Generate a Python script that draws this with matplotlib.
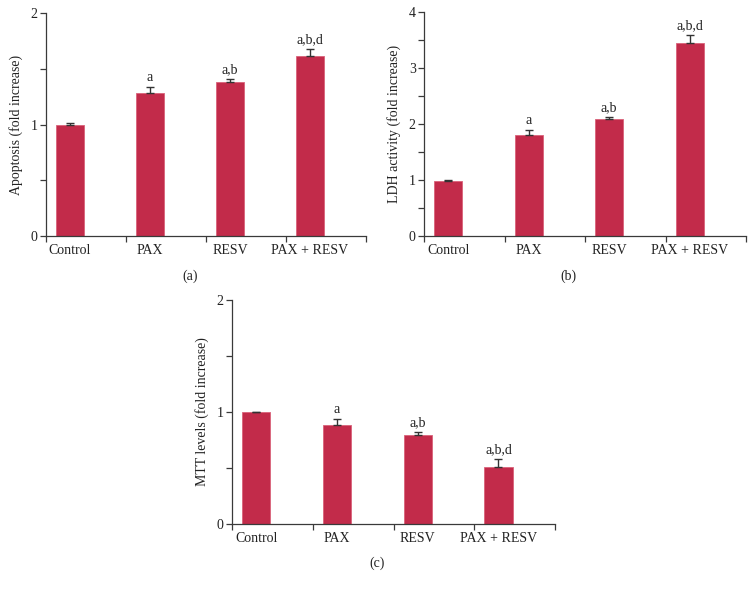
import matplotlib
matplotlib.use("Agg")
import matplotlib.pyplot as plt
from matplotlib.ticker import MultipleLocator, FixedLocator

plt.rcParams['font.family'] = ['Liberation Serif', 'DejaVu Serif']

categories = ["Control", "PAX", "RESV", "PAX + RESV"]

apoptosis = [1.00, 1.28, 1.385, 1.615]
apoptosis_err = [0.01, 0.055, 0.022, 0.066]
apoptosis_sig = ["", "a", "a,b", "a,b,d"]

ldh = [0.98, 1.80, 2.085, 3.455]
ldh_err = [0.012, 0.095, 0.035, 0.14]
ldh_sig = ["", "a", "a,b", "a,b,d"]

mtt = [1.00, 0.885, 0.797, 0.512]
mtt_err = [0.004, 0.054, 0.022, 0.065]
mtt_sig = ["", "a", "a,b", "a,b,d"]

bar_color = "#C22B4A"
axis_color = "#3a3a3a"
text_color = "#222222"

fig = plt.figure(figsize=(7.56, 5.90), dpi=100)

W, H = 756, 590
def rect(x0, x1, ytop, ybot):
    return [x0 / W, 1 - ybot / H, (x1 - x0) / W, (ybot - ytop) / H]

panels = [
    (rect(46, 366, 13, 236), apoptosis, apoptosis_err, apoptosis_sig, 2, "Apoptosis (fold increase)", "(a)", 276),
    (rect(424, 746, 12, 236), ldh, ldh_err, ldh_sig, 4, "LDH activity (fold increase)", "(b)", 276),
    (rect(232, 555, 300, 524), mtt, mtt_err, mtt_sig, 2, "MTT levels (fold increase)", "(c)", 563),
]

for r, vals, errs, sigs, ymax, ylabel, plabel, py in panels:
    ax = fig.add_axes(r)
    x = list(range(len(categories)))
    ax.bar(x, vals, width=0.35, color=bar_color, edgecolor="#D9627A", linewidth=0.6, zorder=2)
    ax.errorbar(x, vals, yerr=[[0] * len(errs), errs], fmt="none", ecolor="#333333",
                elinewidth=1.0, capsize=3, capthick=1.0, zorder=3)
    for xi, v, e, s in zip(x, vals, errs, sigs):
        if s:
            ax.annotate(s, (xi, v + e), xytext=(0, 2), textcoords="offset points",
                        ha="center", va="bottom", fontsize=10, color=text_color)
    ax.set_xlim(-0.3, 3.7)
    ax.set_ylim(0, ymax)
    ax.set_xticks(x)
    ax.set_xticklabels(categories, fontsize=10, color=text_color)
    ax.xaxis.set_minor_locator(FixedLocator([-0.3, 0.7, 1.7, 2.7, 3.7]))
    ax.tick_params(axis="x", which="major", length=0, pad=6)
    ax.tick_params(axis="x", which="minor", length=4, width=0.9, color=axis_color, direction="out")
    ax.yaxis.set_major_locator(MultipleLocator(1))
    ax.yaxis.set_minor_locator(MultipleLocator(0.5))
    ax.tick_params(axis="y", which="both", length=4, width=0.9, color=axis_color,
                   direction="out", labelsize=10, labelcolor=text_color, pad=2)
    for sp in ["top", "right"]:
        ax.spines[sp].set_visible(False)
    for sp in ["left", "bottom"]:
        ax.spines[sp].set_color(axis_color)
        ax.spines[sp].set_linewidth(0.9)
    ax.set_ylabel(ylabel, fontsize=10, color=text_color)
    ax.yaxis.set_label_coords(-23 / (r[2] * W), 0.5)
    # panel label centered under bar span
    bx = ax.transData.transform((1.5, 0))[0] / W
    fig.text(bx, 1 - py / H, plabel, ha="center", va="center", fontsize=10, color=text_color)

fig.savefig("out.png", dpi=100)
